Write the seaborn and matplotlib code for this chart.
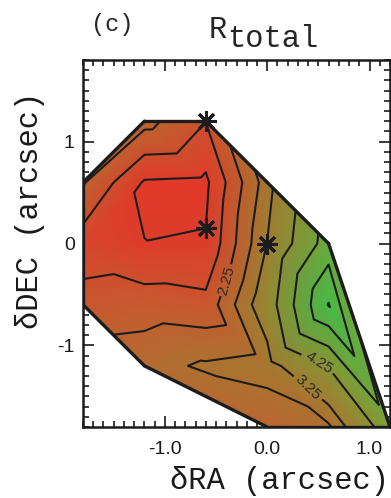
import numpy as np
import matplotlib
matplotlib.use("Agg")
import matplotlib.pyplot as plt
import matplotlib.tri as mtri
from matplotlib.colors import LinearSegmentedColormap
from matplotlib.ticker import MultipleLocator, FixedLocator, FormatStrFormatter
import seaborn as sns

# sample positions on the 0.6" grid, one row per DEC value (top to bottom)
dec_rows = [1.2, 0.6, 0.0, -0.6, -1.2, -1.8]
ra_rows = [
    [-1.2, -0.6],
    [-1.8, -1.2, -0.6, 0.0],
    [-1.8, -1.2, -0.6, 0.0, 0.6],
    [-1.8, -1.2, -0.6, 0.0, 0.6],
    [-1.2, -0.6, 0.0, 0.6],
    [0.0, 0.6, 1.2],
]
# R_total at those positions (estimated from the contours)
r_rows = [
    [2.42, 1.76],
    [2.30, 1.20, 1.15, 3.00],
    [1.50, 1.255, 1.283, 3.26, 5.70],
    [1.93, 2.00, 1.90, 3.70, 7.30],
    [2.58, 2.82, 2.95, 4.30],
    [2.40, 2.65, 4.80],
]

plain_levels = [1.25, 1.75, 2.75, 5.25, 6.25, 7.25]
label_levels = [2.25, 3.25, 4.25]
label_spots = [(-0.36, -0.37), (0.44, -1.38), (0.56, -1.08)]

# marked positions
star_ra = [-0.6, -0.6, 0.0]
star_dec = [1.2, 0.15, 0.0]

# colour ramp red -> brown -> olive -> green
cmap_vals = [1.1, 1.5, 2.0, 2.5, 3.0, 3.75, 4.75, 5.75, 7.3]
cmap_cols = ["#e3372a", "#d6452c", "#c75a2f", "#b66a30", "#a57830",
             "#938a32", "#7e9e38", "#68ac3e", "#45ba48"]

sns.set_theme(style="ticks")
plt.rcParams['font.family'] = ['Liberation Sans', 'DejaVu Sans']
plt.rcParams['axes.unicode_minus'] = True
mono = ['Liberation Mono', 'DejaVu Sans Mono']

ra = np.concatenate([np.array(r, dtype=float) for r in ra_rows])
dec = np.concatenate([np.full(len(r), d) for d, r in zip(dec_rows, ra_rows)])
z = np.concatenate([np.array(r, dtype=float) for r in r_rows])

vmin, vmax = cmap_vals[0], cmap_vals[-1]
cmap = LinearSegmentedColormap.from_list(
    "rg", [((v - vmin) / (vmax - vmin), c) for v, c in zip(cmap_vals, cmap_cols)])

fig = plt.figure(figsize=(3.91, 4.98), dpi=100)
ax = fig.add_axes([83 / 391, 71 / 498, 307 / 391, 367 / 498])
ax.set_facecolor("white")

triang = mtri.Triangulation(ra, dec)
ax.tripcolor(triang, z, shading="gouraud", cmap=cmap, vmin=vmin, vmax=vmax)
ax.tricontour(triang, z, levels=plain_levels, colors="#1c1c1c", linewidths=1.5)
cs = ax.tricontour(triang, z, levels=label_levels, colors="#1c1c1c", linewidths=1.5)
ax.clabel(cs, manual=label_spots, inline=True, fmt="%.2f",
          fontsize=11, colors="#2a2a2a")

# outline of the sampled area
tris = triang.triangles
for t, nb in zip(tris, triang.neighbors):
    for j in range(3):
        if nb[j] == -1:
            a, b = t[j], t[(j + 1) % 3]
            ax.plot([ra[a], ra[b]], [dec[a], dec[b]], color="#1c1c1c", lw=2.4,
                    solid_capstyle="round")

ax.plot(star_ra, star_dec, ls="none", marker=(8, 2, 0), ms=15, mew=2.2, color="#1c1c1c")

ax.set_xlim(-1.8, 1.2)
ax.set_ylim(-1.8, 1.8)
ax.xaxis.set_major_locator(FixedLocator([-1.0, 0.0, 1.0]))
ax.yaxis.set_major_locator(FixedLocator([-1, 0, 1]))
ax.xaxis.set_major_formatter(FormatStrFormatter("%.1f"))
ax.yaxis.set_major_formatter(FormatStrFormatter("%d"))
ax.xaxis.set_minor_locator(MultipleLocator(0.1))
ax.yaxis.set_minor_locator(MultipleLocator(0.1))
ax.tick_params(which="both", direction="in", top=True, right=True, color="k", width=1.2)
ax.tick_params(which="major", length=8, labelsize=14, labelcolor="k")
ax.tick_params(which="minor", length=4)
ax.tick_params(axis="x", which="major", pad=10)
ax.tick_params(axis="y", which="major", pad=6)
for s in ax.spines.values():
    s.set_linewidth(1.8)
    s.set_color("k")

ax.set_xlabel("δRA (arcsec)", family=mono, fontsize=22, color="k")
ax.xaxis.label.set_va("baseline")
ax.xaxis.set_label_coords((279 - 83) / 307, (427 - 489) / 367)
ax.set_ylabel("δDEC (arcsec)", family=mono, fontsize=22, color="k")
ax.yaxis.label.set_va("baseline")
ax.yaxis.set_label_coords((38 - 83) / 307, (427 - 210) / 367)

fig.text(112 / 391, 1 - 24 / 498, "(c)", family=mono, fontsize=17, ha="center", va="center")
fig.text(227 / 391, 1 - 38 / 498, "R", family=mono, fontsize=22, ha="right", va="baseline")
fig.text(227 / 391, 1 - 47 / 498, "total", family=mono, fontsize=22, ha="left", va="baseline")

fig.savefig("out.png", dpi=100)
